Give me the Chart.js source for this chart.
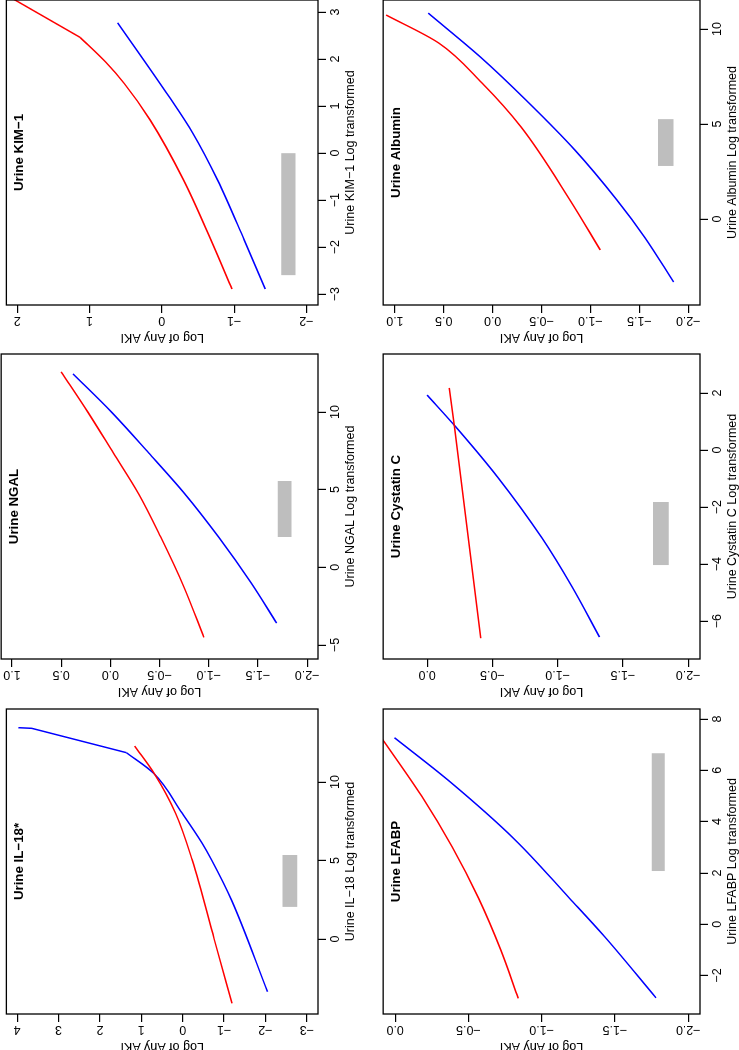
<!DOCTYPE html>
<html>
<head>
<meta charset="utf-8">
<script src="https://cdn.jsdelivr.net/npm/chart.js@4.4.1/dist/chart.umd.min.js"></script>
<style>
  html, body { margin: 0; padding: 0; background: #fff; overflow: hidden; width: 739px; height: 1050px; }
  /* the figure is laid out upright (1050 x 739) and then turned a quarter turn to the left */
  #fig { position: absolute; left: 0; top: 0; width: 1050px; height: 739px;
         transform-origin: 0 0; transform: translate(0, 1050px) rotate(-90deg); }
  #fig canvas { position: absolute; }
</style>
</head>
<body>
<div id="fig"></div>
<script>
// --------------------
// Data (x = biomarker, log transformed; y = log of any AKI)
// --------------------
const il18XRange = [-4.78, 14.65];
const il18YRange = [-3.27, 4.26];
const il18XTicks = [0, 5, 10];
const il18YTicks = [-3, -2, -1, 0, 1, 2, 3, 4];
const il18RedX = [-4.10, 0.0, 5.03, 8.0, 10.55, 12.29];
const il18RedY = [-1.19, -0.76, -0.23, 0.17, 0.69, 1.16];
const il18BlueX = [-3.36, 2.48, 5.03, 6.1, 8.0, 10.55, 11.87];
const il18BlueY = [-2.05, -1.18, -0.70, -0.47, 0.01, 0.70, 1.36];
const il18BlueTailX = [11.87, 13.42, 13.46];
const il18BlueTailY = [1.36, 3.65, 3.97];
const il18BarX = [2.04, 5.35];
const il18BarY = [-2.77, -2.41];

const ngalXRange = [-5.9, 13.73];
const ngalYRange = [-2.11, 1.11];
const ngalXTicks = [-5, 0, 5, 10];
const ngalYTicks = [-2, -1.5, -1, -0.5, 0, 0.5, 1];
const ngalRedX = [-4.51, -1.3, 1.97, 4.7, 7.36, 10.0, 12.58];
const ngalRedY = [-0.95, -0.75, -0.51, -0.29, -0.03, 0.23, 0.50];
const ngalBlueX = [-3.59, -1.0, 1.95, 4.78, 7.36, 10.0, 12.45];
const ngalBlueY = [-1.69, -1.43, -1.10, -0.75, -0.39, -0.01, 0.38];
const ngalBarX = [1.95, 5.56];
const ngalBarY = [-1.84, -1.70];

const kimXRange = [-3.23, 3.255];
const kimYRange = [-2.16, 2.15];
const kimXTicks = [-3, -2, -1, 0, 1, 2, 3];
const kimYTicks = [-2, -1, 0, 1, 2];
const kimRedX = [-2.89, -1.85, -0.57, 0.70, 1.48, 1.94, 2.46];
const kimRedY = [-0.97, -0.68, -0.30, 0.16, 0.52, 0.78, 1.13];
const kimRedTailX = [2.46, 3.3];
const kimRedTailY = [1.13, 2.08];
const kimBlueX = [-2.89, -1.85, -0.57, 0.42, 1.20, 2.77];
const kimBlueY = [-1.43, -1.14, -0.77, -0.43, -0.10, 0.61];
const kimBarX = [-2.6, 0.0];
const kimBarY = [-1.85, -1.65];

const lfabpXRange = [-3.5, 8.39];
const lfabpYRange = [-2.08, 0.082];
const lfabpXTicks = [-2, 0, 2, 4, 6, 8];
const lfabpYTicks = [-2, -1.5, -1, -0.5, 0];
const lfabpRedX = [-2.89, -1, 1, 3, 5, 7.4];
const lfabpRedY = [-0.84, -0.72, -0.57, -0.39, -0.18, 0.11];
const lfabpBlueX = [-2.87, -0.49, 1.01, 3.28, 5.62, 7.27];
const lfabpBlueY = [-1.78, -1.43, -1.19, -0.82, -0.36, 0.005];
const lfabpBarX = [2.07, 6.67];
const lfabpBarY = [-1.84, -1.75];

const cysXRange = [-7.33, 3.37];
const cysYRange = [-2.09, 0.337];
const cysXTicks = [-6, -4, -2, 0, 2];
const cysYTicks = [-2, -1.5, -1, -0.5, 0];
const cysRedX = [-6.6, 0.81, 2.18];
const cysRedY = [-0.41, -0.21, -0.17];
const cysBlueX = [-6.56, -4.8, -3.09, -0.95, 0.81, 1.93];
const cysBlueY = [-1.32, -1.11, -0.88, -0.54, -0.22, 0.0];
const cysBarX = [-4.04, -1.82];
const cysBarY = [-1.85, -1.73];

const albXRange = [-4.53, 11.53];
const albYRange = [-2.12, 1.12];
const albXTicks = [0, 5, 10];
const albYTicks = [-2, -1.5, -1, -0.5, 0, 0.5, 1];
const albRedX = [-1.63, 1.0, 4.84, 7.16, 9.26, 10.74];
const albRedY = [-1.10, -0.79, -0.29, 0.11, 0.55, 1.09];
const albBlueX = [-3.32, -1.0, 1.0, 3.63, 6.26, 8.5, 10.84];
const albBlueY = [-1.85, -1.56, -1.27, -0.84, -0.34, 0.12, 0.66];
const albBarX = [2.79, 5.26];
const albBarY = [-1.85, -1.69];

// --------------------
// Layout / style
// --------------------
const RED = "#FF0000";
const BLUE = "#0000FF";
const GREY = "#BEBEBE";
const FAMILY = "'Liberation Sans', Arial, Helvetica, sans-serif";
const TICK_SIZE = 12.5;
const COL_LEFT = [36, 391, 745];
const ROW_TOP = [1, 383];
const BOX_W = 305;
const BOX_H = 317;
const Y_AXIS_W = 40;
const X_AXIS_H = 42;

Chart.defaults.font.family = FAMILY;
Chart.defaults.color = "#000";

const panels = [
  { title: "Urine IL\u221218*", xTitle: "Urine IL\u221218 Log transformed", col: 0, row: 0,
    xRange: il18XRange, yRange: il18YRange, xTicks: il18XTicks, yTicks: il18YTicks, yDigits: 0,
    curves: [[il18RedX, il18RedY, RED], [il18BlueX, il18BlueY, BLUE]],
    tails: [[il18BlueTailX, il18BlueTailY, BLUE]], bar: [il18BarX, il18BarY] },
  { title: "Urine NGAL", xTitle: "Urine NGAL Log transformed", col: 1, row: 0,
    xRange: ngalXRange, yRange: ngalYRange, xTicks: ngalXTicks, yTicks: ngalYTicks, yDigits: 1,
    curves: [[ngalRedX, ngalRedY, RED], [ngalBlueX, ngalBlueY, BLUE]],
    tails: [], bar: [ngalBarX, ngalBarY] },
  { title: "Urine KIM\u22121", xTitle: "Urine KIM\u22121 Log transformed", col: 2, row: 0,
    xRange: kimXRange, yRange: kimYRange, xTicks: kimXTicks, yTicks: kimYTicks, yDigits: 0,
    curves: [[kimRedX, kimRedY, RED], [kimBlueX, kimBlueY, BLUE]],
    tails: [[kimRedTailX, kimRedTailY, RED]], bar: [kimBarX, kimBarY] },
  { title: "Urine LFABP", xTitle: "Urine LFABP Log transformed", col: 0, row: 1,
    xRange: lfabpXRange, yRange: lfabpYRange, xTicks: lfabpXTicks, yTicks: lfabpYTicks, yDigits: 1,
    curves: [[lfabpRedX, lfabpRedY, RED], [lfabpBlueX, lfabpBlueY, BLUE]],
    tails: [], bar: [lfabpBarX, lfabpBarY] },
  { title: "Urine Cystatin C", xTitle: "Urine Cystatin C Log transformed", col: 1, row: 1,
    xRange: cysXRange, yRange: cysYRange, xTicks: cysXTicks, yTicks: cysYTicks, yDigits: 1,
    curves: [[cysRedX, cysRedY, RED], [cysBlueX, cysBlueY, BLUE]],
    tails: [], bar: [cysBarX, cysBarY] },
  { title: "Urine Albumin", xTitle: "Urine Albumin Log transformed", col: 2, row: 1,
    xRange: albXRange, yRange: albYRange, xTicks: albXTicks, yTicks: albYTicks, yDigits: 1,
    curves: [[albRedX, albRedY, RED], [albBlueX, albBlueY, BLUE]],
    tails: [], bar: [albBarX, albBarY] },
];

// R style labels: real minus sign, fixed decimals
function fmt(v, digits) {
  const s = Math.abs(v).toFixed(digits);
  return (v < 0 && Number(s) !== 0 ? "\u2212" : "") + s;
}

const measureCtx = document.createElement("canvas").getContext("2d");
function widestLabel(labels) {
  measureCtx.font = TICK_SIZE + "px " + FAMILY;
  return Math.max(...labels.map((l) => measureCtx.measureText(l).width));
}

function points(xs, ys) {
  return xs.map((x, i) => ({ x: x, y: ys[i] }));
}

// box round the plot region and the bold title inside it
const panelFrame = {
  id: "panelFrame",
  afterDatasetsDraw(chart, args, opts) {
    const { ctx, chartArea: a } = chart;
    ctx.save();
    ctx.strokeStyle = "#000";
    ctx.lineWidth = 1.3;
    ctx.strokeRect(a.left, a.top, a.right - a.left, a.bottom - a.top);
    ctx.font = "bold 13.3px " + FAMILY;
    ctx.fillStyle = "#000";
    ctx.textAlign = "center";
    ctx.textBaseline = "alphabetic";
    ctx.fillText(opts.text, (a.left + a.right) / 2, a.top + 16.5);
    ctx.restore();
  },
};

const fig = document.getElementById("fig");

panels.forEach((p) => {
  const canvas = document.createElement("canvas");
  canvas.width = Y_AXIS_W + BOX_W + 2;
  canvas.height = BOX_H + 2 + X_AXIS_H;
  canvas.style.left = (COL_LEFT[p.col] - Y_AXIS_W) + "px";
  canvas.style.top = (ROW_TOP[p.row] - 2) + "px";
  fig.appendChild(canvas);

  const yLabels = p.yTicks.map((v) => fmt(v, p.yDigits));
  const yPad = 7 - widestLabel(yLabels) / 2;

  const datasets = [];
  // grey bar: filled band between two flat lines
  datasets.push({
    data: points(p.bar[0], [p.bar[1][1], p.bar[1][1]]),
    borderColor: "rgba(0,0,0,0)", pointRadius: 0, fill: false,
  });
  datasets.push({
    data: points(p.bar[0], [p.bar[1][0], p.bar[1][0]]),
    borderColor: "rgba(0,0,0,0)", backgroundColor: GREY, pointRadius: 0, fill: "-1",
  });
  p.curves.forEach(([xs, ys, color]) => {
    datasets.push({
      data: points(xs, ys), borderColor: color, borderWidth: 1.5,
      pointRadius: 0, fill: false, cubicInterpolationMode: "monotone",
    });
  });
  p.tails.forEach(([xs, ys, color]) => {
    datasets.push({
      data: points(xs, ys), borderColor: color, borderWidth: 1.5,
      pointRadius: 0, fill: false, tension: 0,
    });
  });

  new Chart(canvas, {
    type: "line",
    data: { datasets },
    options: {
      responsive: false,
      animation: false,
      devicePixelRatio: 1,
      events: [],
      layout: { padding: { top: 2, right: 2, left: 0, bottom: 0 } },
      plugins: {
        legend: { display: false },
        tooltip: { enabled: false },
        panelFrame: { text: p.title },
      },
      scales: {
        x: {
          type: "linear",
          min: p.xRange[0],
          max: p.xRange[1],
          afterBuildTicks: (s) => { s.ticks = p.xTicks.map((v) => ({ value: v })); },
          afterFit: (s) => { s.height = X_AXIS_H; },
          border: { display: false },
          grid: { drawOnChartArea: false, drawTicks: true, tickLength: 8, color: "#000", lineWidth: 1.2 },
          ticks: {
            autoSkip: false, maxRotation: 0, minRotation: 0, padding: 2.5,
            font: { size: TICK_SIZE }, color: "#000",
            callback: (v) => fmt(v, 0),
          },
          title: {
            display: true, text: p.xTitle, color: "#000",
            font: { size: TICK_SIZE }, padding: { top: 0, bottom: 1.5 },
          },
        },
        y: {
          type: "linear",
          min: p.yRange[0],
          max: p.yRange[1],
          afterBuildTicks: (s) => { s.ticks = p.yTicks.map((v) => ({ value: v })); },
          afterFit: (s) => { s.width = Y_AXIS_W; },
          border: { display: false },
          grid: { drawOnChartArea: false, drawTicks: true, tickLength: 8, color: "#000", lineWidth: 1.2 },
          ticks: {
            autoSkip: false, minRotation: 90, maxRotation: 90, crossAlign: "center", padding: yPad,
            font: { size: TICK_SIZE }, color: "#000",
            callback: (v) => fmt(v, p.yDigits),
          },
          title: {
            display: true, text: "Log of Any AKI", color: "#000",
            font: { size: TICK_SIZE }, padding: { top: 0.5, bottom: 0 },
          },
        },
      },
    },
    plugins: [panelFrame],
  });
});
</script>
</body>
</html>
